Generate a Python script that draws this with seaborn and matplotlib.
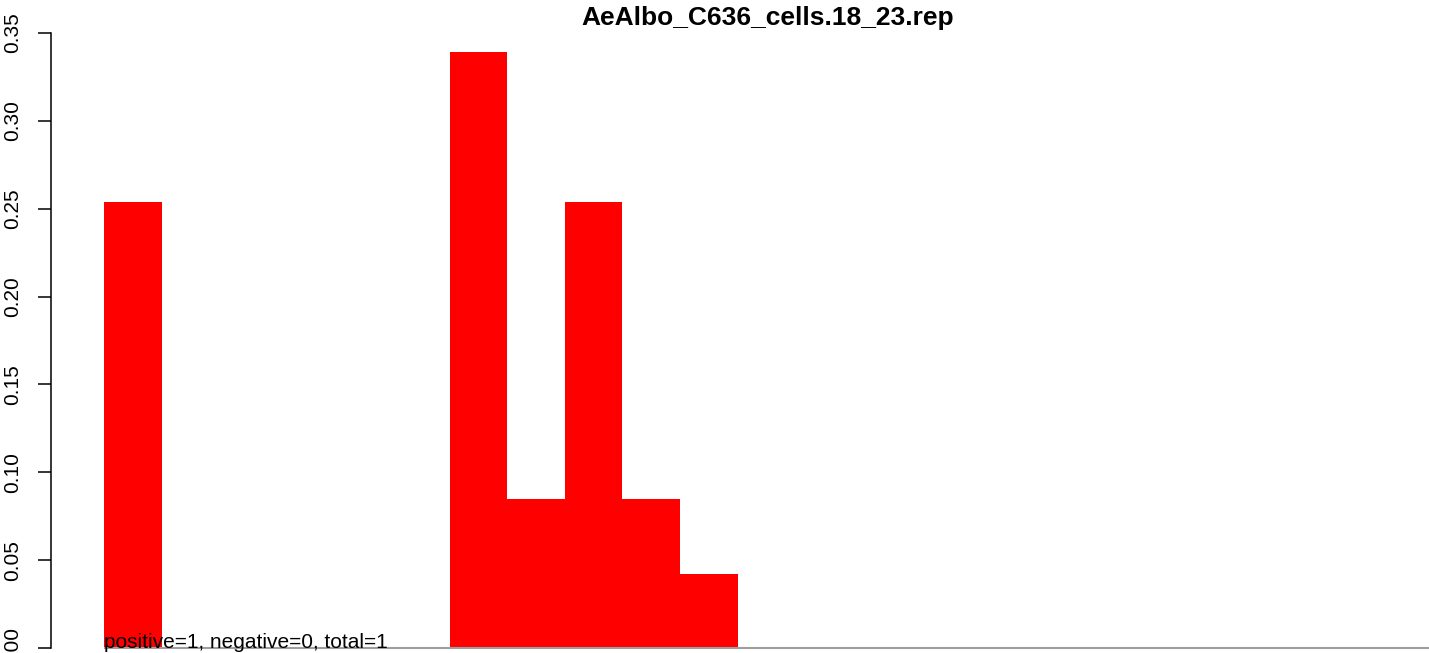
import matplotlib
matplotlib.use("Agg")
import matplotlib.pyplot as plt
import seaborn as sns
import pandas as pd
import numpy as np

title = "AeAlbo_C636_cells.18_23.rep"
note = "positive=1, negative=0, total=1"
# 23 slots; non-zero bars at slots 0, 6-10
slots = [str(i) for i in range(23)]
values = [0.254, 0, 0, 0, 0, 0, 0.339, 0.085, 0.254, 0.085, 0.042,
          0, 0, 0, 0, 0, 0, 0, 0, 0, 0, 0, 0]
yticks = [0.00, 0.05, 0.10, 0.15, 0.20, 0.25, 0.30, 0.35]
ytick_labels = ["0.00", "0.05", "0.10", "0.15", "0.20", "0.25", "0.30", "0.35"]

sns.set_theme(style="white")
plt.rcParams['font.family'] = ['Liberation Sans', 'DejaVu Sans']

W, H = 1429, 653
fig = plt.figure(figsize=(W / 100, H / 100), dpi=100)
px_per_unit = (648 - 33) / 0.35
ymax = 0.36
ax_h = ymax * px_per_unit
ax = fig.add_axes([51 / W, 5 / H, (W - 51) / W, ax_h / H])

df = pd.DataFrame({"slot": slots, "value": values})
sns.barplot(data=df, x="slot", y="value", color="#FF0000", width=1.0,
            saturation=1, ax=ax, linewidth=0, edgecolor="none")

slot_px = (W - 104) / len(slots)
left_ext = (104 - 51) / slot_px
ax.set_xlim(-0.5 - left_ext, len(slots) - 0.5)
ax.set_ylim(0, ymax)

ax.hlines(0, -0.5, len(slots) - 0.5, color="#9E9E9E", lw=1.5, zorder=3, clip_on=False)

for s in ["top", "right", "bottom"]:
    ax.spines[s].set_visible(False)
ax.spines["left"].set_bounds(0, 0.35)
ax.spines["left"].set_linewidth(1.1)
ax.spines["left"].set_color("black")

ax.set_xticks([])
ax.set_yticks(yticks)
ax.set_yticklabels(ytick_labels, rotation=90, va="center", fontsize=15)
ax.tick_params(axis="y", length=9.5, width=1.1, color="black", pad=11.5, left=True,
               labelcolor="black")
ax.set_xlabel("")
ax.set_ylabel("")

ax.text(-0.5, 0, note, fontsize=15, ha="left", va="baseline", color="black", zorder=4)

fig.text(768 / W, 1 - 18 / H, title, fontsize=19, fontweight="bold",
         ha="center", va="center", color="black")

fig.savefig("out.png", dpi=100)
